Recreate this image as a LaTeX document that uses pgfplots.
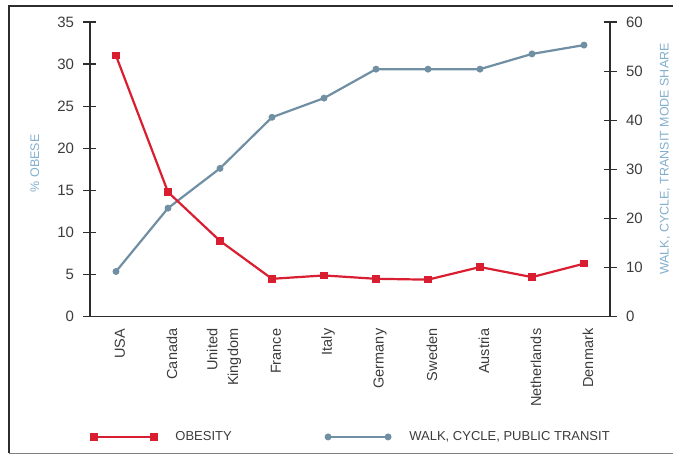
\documentclass[border=0pt]{standalone}
\usepackage{fontspec}
\setmainfont{Liberation Sans}
\usepackage{pgfplots}
\pgfplotsset{compat=1.18}

\definecolor{obred}{RGB}{218,30,50}
\definecolor{walkblue}{RGB}{112,143,163}
\definecolor{lablue}{RGB}{130,175,205}
\definecolor{ticktext}{RGB}{60,60,60}
\definecolor{axline}{RGB}{45,45,45}

\pgfplotsset{
  common/.style={
    scale only axis, width=520pt, height=294.7pt,
    xmin=-0.5, xmax=9.5,
    tick align=center,
    major tick length=13pt,
    every tick/.style={axline, line width=1.2pt},
    axis line style={axline, line width=1.5pt},
    tick label style={font=\fontsize{15}{15}\selectfont, color=ticktext},
    /pgf/number format/assume math mode=true,
  },
}

\begin{document}
\begin{tikzpicture}
\useasboundingbox (-90pt,-138.3pt) rectangle (583pt,316.7pt);

% right scale: walk, cycle, public transit
\begin{axis}[common,
  axis y line*=right, axis x line=none,
  ymin=0, ymax=60, ytick={0,10,...,60},
  yticklabel style={xshift=6pt},
  ylabel={WALK, CYCLE, TRANSIT MODE SHARE},
  ylabel style={at={(axis description cs:1.106,0.535)}, anchor=center,
    font=\fontsize{12.5}{13}\selectfont, color=lablue},
  legend columns=2,
  legend style={at={(axis description cs:0.002,-0.408)}, anchor=west,
    draw=none, fill=none, inner sep=0pt,
    font=\fontsize{13}{13}\selectfont, text=ticktext,
    /tikz/every odd column/.append style={column sep=17pt},
    /tikz/every even column/.append style={column sep=92pt}},
  legend image code/.code={\draw[#1] plot coordinates {(0pt,0pt) (60pt,0pt)};},
]
\addlegendimage{obred, line width=2.2pt, mark=square*, mark size=2.6pt}
\addlegendentry{OBESITY}
\addplot[walkblue, line width=2.2pt, mark=*, mark size=2.3pt] coordinates {
  (0,9.2) (1,22.1) (2,30.2) (3,40.6) (4,44.5)
  (5,50.4) (6,50.4) (7,50.4) (8,53.5) (9,55.3)
};
\addlegendentry{WALK, CYCLE, PUBLIC TRANSIT}
\end{axis}

% left scale: obesity
\begin{axis}[common,
  axis y line*=left, axis x line*=bottom,
  ymin=0, ymax=35, ytick={0,5,...,35},
  yticklabel style={xshift=-6pt},
  xtick={0,...,9},
  xticklabels={USA,Canada,United\\Kingdom,France,Italy,Germany,Sweden,Austria,Netherlands,Denmark},
  xticklabel style={rotate=90, anchor=east, align=right, yshift=-4pt, xshift=-2pt,
    font=\fontsize{14.5}{21}\selectfont},
  xtick style={draw=none},
  minor xtick={-0.5,0.5,...,9.5},
  minor tick length=13pt,
  ylabel={\% OBESE},
  ylabel style={at={(axis description cs:-0.106,0.52)}, anchor=center,
    font=\fontsize{12.5}{13}\selectfont, color=lablue},
]
\addplot[obred, line width=2.2pt, mark=square*, mark size=2.6pt] coordinates {
  (0,31.0) (1,14.8) (2,9.0) (3,4.5) (4,4.9)
  (5,4.5) (6,4.4) (7,5.9) (8,4.7) (9,6.3)
};
\end{axis}

% outer frame
\draw[axline, line width=1.6pt] (583pt,310.7pt) -- (-81pt,310.7pt) -- (-81pt,-136.3pt);
\draw[gray, line width=0.8pt] (-81pt,-136.3pt) -- (583pt,-136.3pt);
\end{tikzpicture}
\end{document}
